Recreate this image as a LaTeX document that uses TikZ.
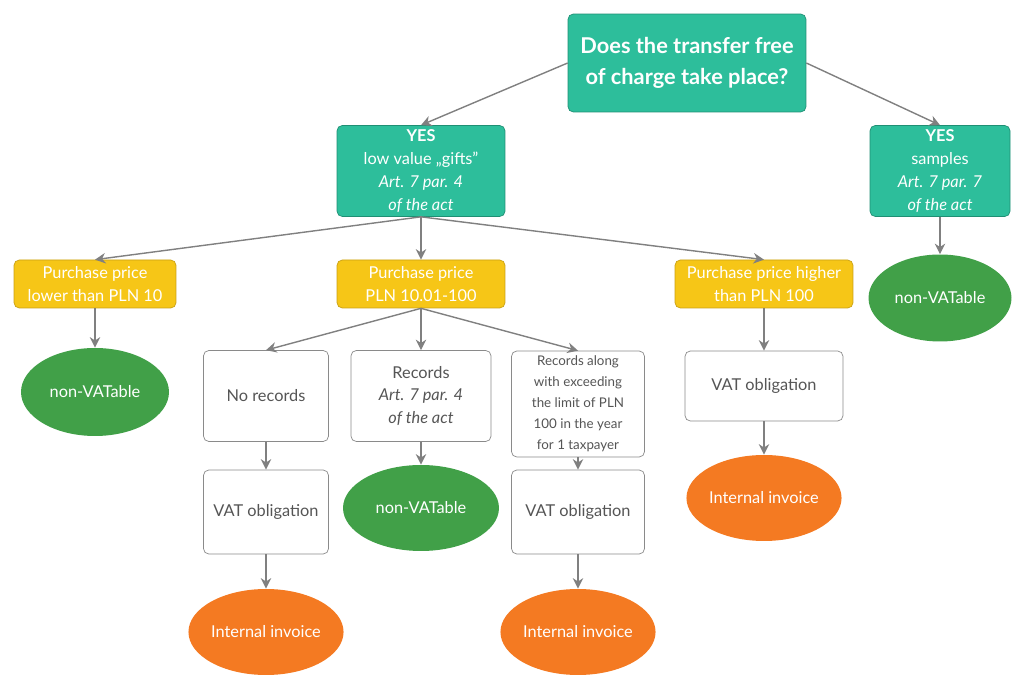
\documentclass[tikz,border=0pt]{standalone}
\usepackage{fontspec}
\setmainfont{Lato}
\usetikzlibrary{shapes.geometric,arrows.meta,positioning}

\definecolor{tealfill}{HTML}{2DBE9B}
\definecolor{tealdraw}{HTML}{1F8F74}
\definecolor{yellowfill}{HTML}{F6C617}
\definecolor{yellowdraw}{HTML}{C9A013}
\definecolor{greenfill}{HTML}{41A048}
\definecolor{orangefill}{HTML}{F47A22}
\definecolor{linegray}{HTML}{808080}
\definecolor{boxgray}{HTML}{8A8A8A}
\definecolor{textgray}{HTML}{555555}

\begin{document}
\begin{tikzpicture}[
			x=0.02cm, y=-0.02cm,
			question/.style={rectangle, rounded corners=3pt, draw=tealdraw, fill=tealfill, text=white, align=center, inner sep=0pt, font=\fontsize{12.4}{17.8}\selectfont\bfseries},
			answer/.style={rectangle, rounded corners=3pt, draw=tealdraw, fill=tealfill, text=white, align=center, inner sep=0pt, font=\fontsize{9.3}{13}\selectfont},
			price/.style={rectangle, rounded corners=3pt, draw=yellowdraw, fill=yellowfill, text=white, align=center, inner sep=0pt, minimum height=0.96cm, font=\fontsize{9.3}{13}\selectfont},
			case/.style={rectangle, rounded corners=3pt, draw=boxgray, fill=white, text=textgray, align=center, inner sep=0pt, font=\fontsize{9.3}{13}\selectfont},
			freevat/.style={ellipse, fill=greenfill, text=white, inner sep=0pt, font=\fontsize{9.3}{13}\selectfont},
			invoice/.style={ellipse, fill=orangefill, text=white, inner sep=0pt, minimum width=3.1cm, minimum height=1.72cm, font=\fontsize{9.3}{13}\selectfont},
			link/.style={draw=linegray, thick, -{Stealth[length=6pt,width=6pt]}}
		]
		\useasboundingbox (0,0) rectangle (1024,688);

		% Question
		\node[question, minimum width=4.76cm, minimum height=1.96cm] (root) at (687,63) {Does the transfer free\\of charge take place?};

		% Answers
		\node[answer, minimum width=3.36cm, minimum height=1.82cm] (gifts) at (421,171) {\textbf{YES}\\low value „gifts”\\\textit{Art. 7 par. 4}\\\textit{of the act}};
		\node[answer, minimum width=2.8cm, minimum height=1.82cm] (samples) at (940,171) {\textbf{YES}\\samples\\\textit{Art. 7 par. 7}\\\textit{of the act}};

		% Purchase prices
		\node[price, minimum width=3.24cm] (low) at (95,284) {Purchase price\\lower than PLN 10};
		\node[price, minimum width=3.36cm] (mid) at (421,284) {Purchase price\\PLN 10.01-100};
		\node[price, minimum width=3.56cm] (high) at (764,284) {Purchase price higher\\than PLN 100};

		% Non-VATable results
		\node[freevat, minimum width=2.96cm, minimum height=1.76cm] (lowfree) at (95,392) {non-VATable};
		\node[freevat, minimum width=2.86cm, minimum height=1.74cm] (samplesfree) at (940,298) {non-VATable};

		% Records
		\node[case, minimum width=2.5cm, minimum height=1.82cm] (norec) at (266,396) {No records};
		\node[case, minimum width=2.8cm, minimum height=1.82cm] (rec) at (421,396) {Records\\\textit{Art. 7 par. 4}\\\textit{of the act}};
		\node[case, minimum width=2.66cm, minimum height=2.12cm, font=\fontsize{7.6}{12}\selectfont] (reclimit) at (578,404) {Records along\\with exceeding\\the limit of PLN\\100 in the year\\for 1 taxpayer};
		\node[case, minimum width=3.16cm, minimum height=1.4cm] (highvat) at (764,386) {VAT obligation};

		% Second level
		\node[case, minimum width=2.5cm, minimum height=1.68cm] (norecvat) at (266,512) {VAT obligation};
		\node[freevat, minimum width=3.12cm, minimum height=1.72cm] (recfree) at (421,508) {non-VATable};
		\node[case, minimum width=2.66cm, minimum height=1.68cm] (reclimitvat) at (578,512) {VAT obligation};
		\node[invoice] (highinv) at (764,498) {Internal invoice};

		% Invoices
		\node[invoice] (norecinv) at (266,632) {Internal invoice};
		\node[invoice] (reclimitinv) at (578,632) {Internal invoice};

		% Connections
		\draw[link] (root.west) -- (gifts.north);
		\draw[link] (root.east) -- (samples.north);
		\draw[link] (gifts.south) -- (low.north);
		\draw[link] (gifts.south) -- (mid.north);
		\draw[link] (gifts.south) -- (high.north);
		\draw[link] (samples) -- (samplesfree);
		\draw[link] (low) -- (lowfree);
		\draw[link] (mid.south) -- (norec.north);
		\draw[link] (mid) -- (rec);
		\draw[link] (mid.south) -- (reclimit.north);
		\draw[link] (high) -- (highvat);
		\draw[link] (norec) -- (norecvat);
		\draw[link] (rec) -- (recfree);
		\draw[link] (reclimit) -- (reclimitvat);
		\draw[link] (highvat) -- (highinv);
		\draw[link] (norecvat) -- (norecinv);
		\draw[link] (reclimitvat) -- (reclimitinv);

	\end{tikzpicture}
\end{document}
